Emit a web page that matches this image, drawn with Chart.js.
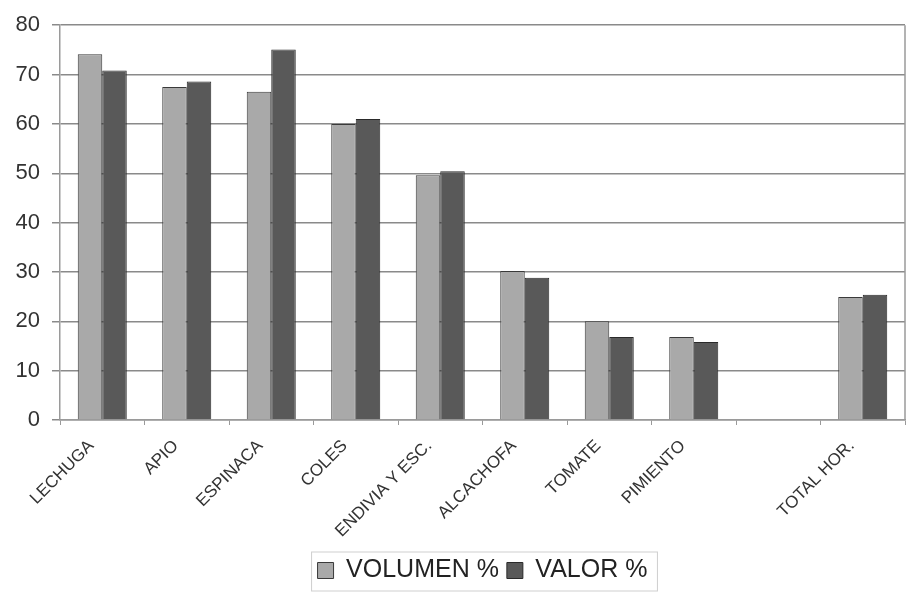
<!DOCTYPE html>
<html>
<head>
<meta charset="utf-8">
<script src="https://cdn.jsdelivr.net/npm/chart.js@4.4.1/dist/chart.umd.min.js"></script>
<style>
    html, body { margin: 0; padding: 0; background: #fff; }
    #wrap { width: 906px; height: 593px; }
</style>
</head>
<body>
<div id="wrap"><canvas id="chart" width="906" height="593"></canvas></div>
<script>
// Categories (one empty slot before the total, as in the original)
const categories = ['LECHUGA', 'APIO', 'ESPINACA', 'COLES', 'ENDIVIA Y ESC.', 'ALCACHOFA', 'TOMATE', 'PIMIENTO', '', 'TOTAL HOR.'];
const volumen = [74.1, 67.5, 66.5, 60.0, 49.6, 30.2, 20.0, 16.8, null, 24.9];
const valor = [70.8, 68.6, 75.1, 61.0, 50.4, 28.8, 16.8, 15.8, null, 25.4];
const yTicks = [0, 10, 20, 30, 40, 50, 60, 70, 80];

// Frame round the plot + border round the legend
const framePlugin = {
    id: 'frame',
    afterDraw: function(chart) {
        const ctx = chart.ctx;
        const a = chart.chartArea;
        ctx.save();
        ctx.strokeStyle = '#9a9a9a';
        ctx.lineWidth = 1.5;
        ctx.beginPath();
        ctx.moveTo(a.right, a.top);
        ctx.lineTo(a.right, a.bottom);
        ctx.stroke();
        const lg = chart.legend;
        if (lg) {
            let w = 0;
            lg.legendHitBoxes.forEach(function(b) { w = Math.max(w, b.left + b.width); });
            const x0 = lg.legendHitBoxes[0].left - 6;
            const y0 = lg.legendHitBoxes[0].top - 6;
            ctx.strokeStyle = '#cfcfcf';
            ctx.lineWidth = 1;
            ctx.strokeRect(x0, y0, w - x0 + 10, lg.legendHitBoxes[0].height + 14);
        }
        ctx.restore();
    }
};

new Chart(document.getElementById('chart').getContext('2d'), {
    type: 'bar',
    data: {
        labels: categories,
        datasets: [
            {
                label: 'VOLUMEN %',
                data: volumen,
                backgroundColor: '#a9a9a9',
                borderColor: '#3a3a3a',
                borderWidth: 1
            },
            {
                label: 'VALOR %',
                data: valor,
                backgroundColor: '#595959',
                borderColor: '#2a2a2a',
                borderWidth: 1
            }
        ]
    },
    options: {
        responsive: false,
        animation: false,
        categoryPercentage: 0.58,
        barPercentage: 1.0,
        layout: {
            padding: { top: 24, right: 1, left: 0, bottom: 0 }
        },
        scales: {
            x: {
                grid: {
                    offset: true,
                    drawOnChartArea: false,
                    drawTicks: true,
                    tickLength: 5,
                    color: '#9a9a9a'
                },
                border: { color: '#9a9a9a', width: 1.5 },
                ticks: {
                    color: '#333',
                    font: { family: 'Liberation Sans, Arial, sans-serif', size: 17 },
                    maxRotation: 45,
                    minRotation: 45,
                    autoSkip: false,
                    padding: 11,
                    labelOffset: -11
                },
                afterFit: function(scale) { scale.height = 130; }
            },
            y: {
                min: 0,
                max: 80,
                afterBuildTicks: function(scale) {
                    scale.ticks = yTicks.map(function(v) { return { value: v }; });
                },
                grid: {
                    color: '#8a8a8a',
                    lineWidth: 1.5,
                    tickLength: 8
                },
                border: { color: '#9a9a9a', width: 1.5 },
                ticks: {
                    color: '#333',
                    font: { family: 'Liberation Sans, Arial, sans-serif', size: 22 },
                    padding: 12
                },
                afterFit: function(scale) { scale.width = 60; }
            }
        },
        plugins: {
            legend: {
                position: 'bottom',
                fullSize: false,
                labels: {
                    color: '#222',
                    font: { family: 'Liberation Sans, Arial, sans-serif', size: 25 },
                    boxWidth: 16,
                    boxHeight: 16,
                    padding: 8,
                    useBorderRadius: false
                }
            },
            tooltip: { enabled: false }
        }
    },
    plugins: [framePlugin]
});
</script>
</body>
</html>
